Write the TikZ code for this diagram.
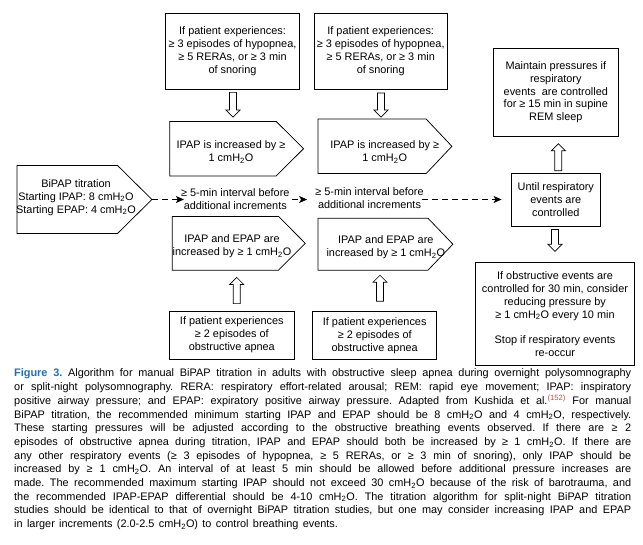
\documentclass[tikz,border=0pt]{standalone}
\usepackage{fontspec}
\setmainfont{Liberation Sans}
\usetikzlibrary{calc,arrows.meta}
\definecolor{figblue}{RGB}{35,110,175}
\definecolor{refcol}{RGB}{190,80,70}
\newcommand\cmho{cmH\textsubscript{2}O}
\newcommand\dgfont{\fontsize{10.9}{12.9}\selectfont}
\newcommand\capln[1]{\hbox to 617pt{#1}}
\newcommand\pentout[2]{%
  \draw[pentline] (#1.north west) -- ($(#1.north east)+(-#2,0)$) -- (#1.east)
    -- ($(#1.south east)+(-#2,0)$) -- (#1.south west) -- cycle;}
\newcommand\harrow[2]{%
  \path (#1) coordinate (hS) (#2) coordinate (hT);
  \path ($(hT)!7pt!(hS)$) coordinate (hH);
  \draw[hollow] ($(hS)!3.5pt!90:(hT)$) -- ($(hH)!3.5pt!90:(hT)$) -- ($(hH)!7pt!90:(hT)$)
    -- (hT) -- ($(hH)!7pt!-90:(hT)$) -- ($(hH)!3.5pt!-90:(hT)$) -- ($(hS)!3.5pt!-90:(hT)$) -- cycle;}
\tikzset{
  boxn/.style={draw, line width=0.75pt, inner sep=0pt, align=center, font=\dgfont},
  pent/.style={inner sep=0pt},
  pentline/.style={line width=0.75pt, line join=miter},
  txt/.style={align=center, inner sep=1pt, font=\dgfont},
  hollow/.style={draw, line width=0.7pt, fill=white, line join=miter},
  dashconn/.style={line width=1pt, dash pattern=on 6pt off 4pt, -{Stealth[length=8pt,width=7pt,inset=2pt]}},
}
\begin{document}
\begin{tikzpicture}[x=1pt,y=-1pt]
\fill[white] (0,0) rectangle (643,545);
\useasboundingbox (0,0) rectangle (643,545);

% top boxes
\node[boxn, minimum width=133.6pt, minimum height=76pt] (t1) at (232.5,51.3) {If patient experiences:\\≥ 3 episodes of hypopnea,\\≥ 5 RERAs, or ≥ 3 min\\of snoring};
\node[boxn, minimum width=133.3pt, minimum height=76pt] (t2) at (380.7,51.3) {If patient experiences:\\≥ 3 episodes of hypopnea,\\≥ 5 RERAs, or ≥ 3 min\\of snoring};

% pentagons
\node[pent, minimum width=133.3pt, minimum height=54pt] (ip1) at (236.7,148.7) {};
\node[pent, minimum width=133.4pt, minimum height=54pt] (ip2) at (385,146.3) {};
\node[pent, minimum width=134.4pt, minimum height=67.6pt] (bp) at (84.5,199.5) {};
\node[pent, minimum width=132.7pt, minimum height=53.3pt] (ie1) at (238.7,243.3) {};
\node[pent, minimum width=134.4pt, minimum height=51.7pt] (ie2) at (385.5,244.2) {};
\pentout{ip1}{27.3}
\pentout{ip2}{25.7}
\pentout{bp}{34.4}
\pentout{ie1}{26.7}
\pentout{ie2}{25}

\node[txt] (ip1t) at (231,152) {IPAP is increased by ≥\\1 \cmho};
\node[txt] (ip2t) at (384.7,152) {IPAP is increased by ≥\\1 \cmho};
\node[txt] (bpt) at (76,197.5) {BiPAP titration\\Starting IPAP: 8 \cmho\\Starting EPAP: 4 \cmho};
\node[txt] (ie1t) at (232,246.3) {IPAP and EPAP are\\increased by ≥ 1 \cmho};
\node[txt] (ie2t) at (385.8,247.5) {IPAP and EPAP are\\increased by ≥ 1 \cmho};
\node[txt] (i1) at (235.3,199) {≥ 5-min interval before\\additional increments};
\node[txt] (i2) at (369.5,198.5) {≥ 5-min interval before\\additional increments};

% right column
\node[boxn, minimum width=89.7pt, minimum height=52.7pt] (un) at (555.8,199.7) {Until respiratory\\events are\\controlled};
\node[boxn, minimum width=125pt, minimum height=87.7pt] (mt) at (555.8,92.2) {Maintain pressures if\\respiratory\\events~ are controlled\\for ≥ 15 min in supine\\REM sleep};
\node[boxn, minimum width=158.6pt, minimum height=103pt] (br) at (555,314.2) {If obstructive events are\\controlled for 30 min, consider\\reducing pressure by\\≥ 1 \cmho{} every 10 min\\[12.7pt]Stop if respiratory events\\re-occur};

% bottom boxes
\node[boxn, minimum width=125pt, minimum height=48pt] (b1) at (231.8,335) {If patient experiences\\≥ 2 episodes of\\obstructive apnea};
\node[boxn, minimum width=124pt, minimum height=48pt] (b2) at (374.7,335.7) {If patient experiences\\≥ 2 episodes of\\obstructive apnea};

% hollow arrows
\harrow{$(t1.south)+(0.5,2.7)$}{$(ip1.north -| t1.south)+(0.5,-4.4)$}
\harrow{$(t2.south)+(0.3,3.4)$}{$(ip2.north -| t2.south)+(0.3,-2)$}
\harrow{$(un.north)+(2.5,-2.3)$}{$(mt.south -| un.north)+(2.5,7.3)$}
\harrow{$(un.south)+(-0.8,3)$}{$(br.north -| un.south)+(-0.8,-11)$}
\harrow{$(b1.north)+(4.9,-7)$}{$(ie1.south -| b1.north)+(4.9,7.3)$}
\harrow{$(b2.north)+(5.3,-10)$}{$(ie2.south -| b2.north)+(5.3,5)$}

% dashed connectors
\draw[dashconn] (bp.east) -- ($(i1.west |- bp.east)+(4,0)$);
\draw[dashconn] ($(i1.east |- bp.east)+(1.5,0)$) -- ($(i2.west |- bp.east)+(-7,0)$);
\draw[dashconn] ($(i2.east |- bp.east)+(-3,0)$) -- ($(un.west |- bp.east)+(-9,0)$);

% caption
\node[anchor=base west, inner sep=0pt] (cap) at (14,377) {\begin{minipage}[t]{617pt}\fontsize{10.9}{13.7}\selectfont\frenchspacing\spaceskip=0.4em plus 1em minus 0.02em
\capln{\textcolor{figblue}{\bfseries Figure 3.} Algorithm for manual BiPAP titration in adults with obstructive sleep apnea during overnight polysomnography}
\capln{or split-night polysomnography. RERA: respiratory effort-related arousal; REM: rapid eye movement; IPAP: inspiratory}
\capln{positive airway pressure; and EPAP: expiratory positive airway pressure. Adapted from Kushida et al.\textsuperscript{\textcolor{refcol}{(152)}} For manual}
\capln{BiPAP titration, the recommended minimum starting IPAP and EPAP should be 8 \cmho{} and 4 \cmho, respectively.}
\capln{These starting pressures will be adjusted according to the obstructive breathing events observed. If there are ≥ 2}
\capln{episodes of obstructive apnea during titration, IPAP and EPAP should both be increased by ≥ 1 \cmho. If there are}
\capln{any other respiratory events (≥ 3 episodes of hypopnea, ≥ 5 RERAs, or ≥ 3 min of snoring), only IPAP should be}
\capln{increased by ≥ 1 \cmho. An interval of at least 5 min should be allowed before additional pressure increases are}
\capln{made. The recommended maximum starting IPAP should not exceed 30 \cmho{} because of the risk of barotrauma, and}
\capln{the recommended IPAP-EPAP differential should be 4-10 \cmho. The titration algorithm for split-night BiPAP titration}
\capln{studies should be identical to that of overnight BiPAP titration studies, but one may consider increasing IPAP and EPAP}
\hbox{in larger increments (2.0-2.5 \cmho) to control breathing events.}
\end{minipage}};
\end{tikzpicture}
\end{document}
